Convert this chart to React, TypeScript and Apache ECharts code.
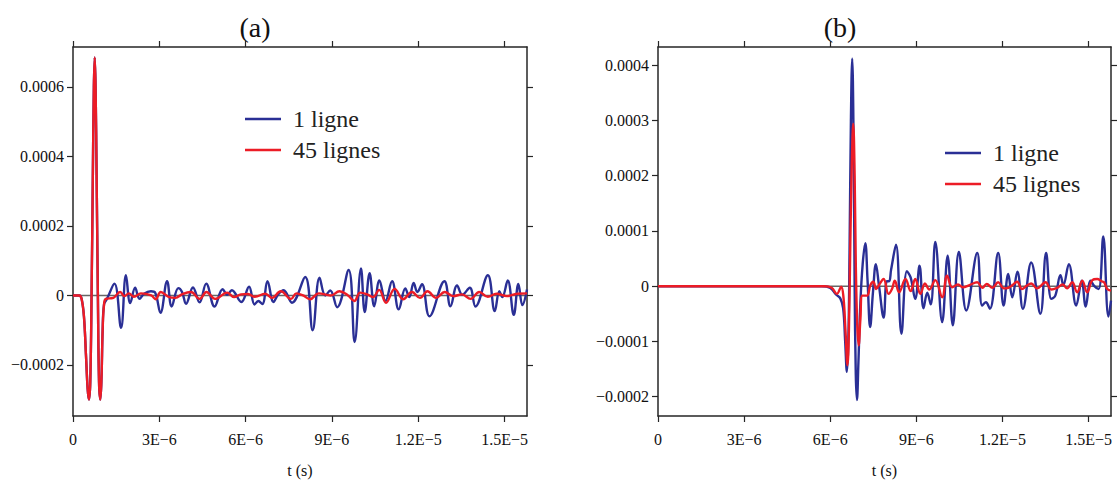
import { useEffect, useRef } from "react";
import * as echarts from "echarts";

// ---------- axes ----------
const X_MAX_US = 15.78; // time axis, in microseconds
const X_TICKS_US = [0, 3, 6, 9, 12, 15];
const X_TICK_LABELS = ["0", "3E−6", "6E−6", "9E−6", "1.2E−5", "1.5E−5"];
const Y_TICKS_A = [-0.0002, 0, 0.0002, 0.0004, 0.0006];
const Y_TICKS_B = [-0.0002, -0.0001, 0, 0.0001, 0.0002, 0.0003, 0.0004];
const Y_RANGE_A = [-0.000347, 0.000715];
const Y_RANGE_B = [-0.000235, 0.000433];

const TITLES = ["(a)", "(b)"];
const SERIES_NAMES = ["1 ligne", "45 lignes"];
const X_NAME = "t (s)";

// ---------- panel (a) : time in µs, values in units of 1e-5 ----------
const PULSE_A_T = [0, 0.22, 0.3, 0.38, 0.45, 0.51, 0.555, 0.6, 0.645, 0.69, 0.725, 0.755, 0.785, 0.82, 0.865, 0.905, 0.95, 0.99, 1.03, 1.08];
const PULSE_A_V = [0, 0, -1, -6, -17, -27, -30, -25, 0, 35, 60, 68.5, 60, 35, 0, -25, -30, -24, -10, -2.5];

const BLUE_A_T = [1.18, 1.44, 1.67, 1.84, 1.99, 2.16, 2.31, 2.47, 2.71, 2.85, 3.04, 3.27, 3.43, 3.66, 3.79, 3.93, 4.17, 4.4, 4.63, 4.92, 5.2, 5.36, 5.52, 5.85, 6.12, 6.31, 6.44, 6.58, 6.76, 6.97, 7.13, 7.32, 7.61, 8.07, 8.33, 8.57, 8.77, 8.94, 9.18, 9.58, 9.79, 10.01, 10.14, 10.31, 10.47, 10.65, 10.86, 11.09, 11.32, 11.55, 11.69, 11.84, 11.97, 12.13, 12.39, 12.91, 13.12, 13.35, 13.53, 13.79, 13.99, 14.42, 14.66, 14.82, 14.92, 15.11, 15.32, 15.48, 15.62, 15.78];
const BLUE_A_V = [-1.0, 3.4, -9.3, 5.8, -2.2, 2.2, -1.0, 0.5, 1.2, 0.9, -5.0, 4.1, -3.2, 2.1, 1.0, -2.4, 2.3, -2.0, 3.4, -3.2, 1.8, 0.2, 1.5, -1.9, 2.5, -2.6, -1.6, -2.5, 4.1, -1.9, 0.3, 1.5, -2.1, 5.3, -10.0, 5.1, 0, 1.4, -3.4, 7.3, -13.4, 7.8, -4.8, 6.4, -3.1, 4.3, -1.6, 4.1, -4.0, 2.0, -0.5, 3.6, 1.0, 3.2, -6.0, 4.1, -3.1, 2.9, 0.2, 2.2, -3.2, 5.8, -4.5, 1.2, -0.5, 4.3, -5.6, 3.3, -2.8, 1.7];

const RED_A_T = [1.14, 1.4, 1.64, 1.79, 1.94, 2.12, 2.36, 2.72, 2.87, 3.05, 3.32, 3.56, 3.8, 4.1, 4.4, 4.64, 4.94, 5.36, 5.6, 5.84, 6.08, 6.32, 6.68, 6.92, 7.22, 7.58, 7.76, 8.0, 8.24, 8.54, 8.96, 9.26, 9.56, 9.78, 9.98, 10.22, 10.43, 10.64, 10.88, 11.18, 11.48, 11.78, 12.06, 12.32, 12.62, 12.92, 13.22, 13.52, 13.82, 14.12, 14.42, 14.72, 15.08, 15.44, 15.78];
const RED_A_V = [-1.0, -0.7, 1.0, -0.2, 0.6, -0.4, 0.6, 0, -1.1, 1.0, -0.4, -0.7, 0.4, 1.0, -1.0, 1.0, -1.0, 0.8, -0.5, 0.3, 0.4, -0.4, 0.5, -0.7, 1.2, -1.0, 0.6, 0, -1.1, 0.6, 0, 1.2, 0, -1.6, 0.8, 0.3, -0.5, 1.6, -2.1, 1.9, -1.1, 1.0, -0.7, 1.2, -0.7, 1.0, -0.2, 0.3, -1.0, 1.0, -0.4, 0.5, -0.2, 0.5, 0.6];

// ---------- panel (b) ----------
const BLUE_B_T = [0, 5.7, 6.0, 6.2, 6.35, 6.45, 6.52, 6.58, 6.63, 6.67, 6.72, 6.765, 6.81, 6.85, 6.89, 6.93, 6.98, 7.05, 7.13, 7.22, 7.3, 7.39, 7.49, 7.59, 7.7, 7.86, 7.97, 8.05, 8.12, 8.29, 8.48, 8.67, 8.8, 8.96, 9.11, 9.25, 9.38, 9.5, 9.66, 9.9, 10.09, 10.27, 10.48, 10.74, 11.12, 11.29, 11.42, 11.56, 11.85, 12.04, 12.2, 12.34, 12.52, 12.71, 13.0, 13.32, 13.52, 13.7, 13.84, 14.02, 14.12, 14.31, 14.57, 14.76, 14.9, 15.07, 15.2, 15.35, 15.51, 15.69, 15.78];
const BLUE_B_V = [0, 0, -0.3, -1.5, -2.2, -4.0, -10.0, -15.5, -10.0, 5, 30, 41.2, 28, 0, -16, -20.6, -14, -3, 4, 7.8, 1, -7.4, -1, 4.0, 0, -5.7, 0.9, 0.9, 3.0, 7.5, -8.6, 2.7, 1.6, -2.3, 3.7, -4.0, -1.2, -3.3, 8.0, -6.5, 5.5, -7.1, 6.2, -4.4, 6.0, -3.5, -2.9, -4.1, 6.0, -3.5, 2.2, -2.0, 2.6, -4.1, 4.3, -5.0, 6.0, -2.3, -1.7, 2.0, 0.2, 4.0, -3.5, 1.0, -3.7, 1.0, 0, -0.5, 9.0, -5.5, -2.6];

const RED_B_T = [0, 5.8, 6.05, 6.23, 6.38, 6.46, 6.53, 6.6, 6.65, 6.7, 6.75, 6.8, 6.85, 6.89, 6.94, 6.99, 7.05, 7.12, 7.28, 7.4, 7.5, 7.6, 7.72, 7.86, 8.03, 8.15, 8.25, 8.4, 8.62, 8.8, 8.96, 9.14, 9.3, 9.45, 9.66, 9.9, 10.07, 10.25, 10.45, 10.62, 10.85, 11.12, 11.3, 11.45, 11.65, 11.85, 12.05, 12.2, 12.35, 12.51, 12.68, 12.85, 13.0, 13.2, 13.5, 13.7, 13.9, 14.1, 14.25, 14.43, 14.6, 14.78, 14.95, 15.13, 15.3, 15.45, 15.54, 15.65, 15.78];
const RED_B_V = [0, 0, -0.3, -1.4, -0.1, -2.0, -8.0, -14.3, -8, 8, 22, 29.4, 20, 4, -7, -10.7, -6, -1.7, -1.7, 0.2, 0.8, -0.5, 0.4, 1.3, -1.4, -0.5, 1.0, -1.1, 1.3, -0.9, 1.3, -1.4, 0.5, -0.6, 1.1, -2.0, 1.9, -0.2, 0.3, -0.2, 0.2, 0.7, -0.3, 0.4, -0.3, 0.7, -0.4, -0.3, 0.2, 0.8, -0.5, 0.1, 0.5, -0.4, 0.7, -0.6, -0.3, 0.3, -0.4, 0.7, -1.1, 1.0, -1.1, 1.1, 1.3, 0.9, 0.7, -0.5, -0.8];

// ---------- styling ----------
const BLUE = "#2a2f95";
const RED = "#ec1c26";
const AXIS_COLOR = "#262626";
const ZERO_COLOR = "#666666";
const FONT = "Liberation Serif";

const GRIDS = [
  { left: 73, top: 47, width: 454, height: 372 },
  { left: 658, top: 47, width: 453, height: 372 },
];

function toPairs(t: number[], v: number[]) {
  return t.map((ti, i) => [ti, v[i] * 1e-5]);
}

function fmtY(v: number) {
  if (Math.abs(v) < 1e-12) return "0";
  return (v < 0 ? "−" : "") + Math.abs(v).toFixed(4);
}
function fmtX(v: number) {
  let best = 0;
  for (let i = 1; i < X_TICKS_US.length; i++) {
    if (Math.abs(X_TICKS_US[i] - v) < Math.abs(X_TICKS_US[best] - v)) best = i;
  }
  return X_TICK_LABELS[best];
}

function xAxisDef(grid: number, position: "top" | "bottom") {
  const bottom = position === "bottom";
  return {
    type: "value",
    gridIndex: grid,
    position,
    min: 0,
    max: X_MAX_US,
    axisLine: { show: true, onZero: false, lineStyle: { color: AXIS_COLOR, width: 1.5 } },
    axisTick: { show: true, inside: false, length: 6, customValues: X_TICKS_US, lineStyle: { color: AXIS_COLOR, width: 1.2 } },
    axisLabel: {
      show: bottom,
      customValues: X_TICKS_US,
      formatter: fmtX,
      fontFamily: FONT,
      fontSize: 16,
      color: "#111",
      margin: 15,
    },
    splitLine: { show: false },
    name: bottom ? X_NAME : "",
    nameLocation: "middle",
    nameGap: 46,
    nameTextStyle: { fontFamily: FONT, fontSize: 16, color: "#111" },
  };
}

function yAxisDef(grid: number, position: "left" | "right", range: number[], ticks: number[]) {
  const left = position === "left";
  return {
    type: "value",
    gridIndex: grid,
    position,
    min: range[0],
    max: range[1],
    axisLine: { show: true, onZero: false, lineStyle: { color: AXIS_COLOR, width: 1.5 } },
    axisTick: { show: true, inside: false, length: 6, customValues: ticks, lineStyle: { color: AXIS_COLOR, width: 1.2 } },
    axisLabel: {
      show: left,
      customValues: ticks,
      formatter: fmtY,
      fontFamily: FONT,
      fontSize: 16,
      color: "#111",
      margin: 9,
    },
    splitLine: { show: false },
  };
}

function lineSeries(name: string, color: string, xi: number, yi: number, data: number[][], z: number) {
  return {
    type: "line",
    name,
    xAxisIndex: xi,
    yAxisIndex: yi,
    data,
    showSymbol: false,
    symbol: "none",
    smooth: 0.4,
    lineStyle: { color, width: 2.4 },
    itemStyle: { color },
    z,
  };
}

function zeroSeries(xi: number, yi: number) {
  return {
    type: "line",
    xAxisIndex: xi,
    yAxisIndex: yi,
    data: [
      [0, 0],
      [X_MAX_US, 0],
    ],
    showSymbol: false,
    symbol: "none",
    lineStyle: { color: ZERO_COLOR, width: 1.6 },
    z: 1,
    silent: true,
  };
}

function legendGraphic(x1: number, y1: number, gap: number) {
  const items: any[] = [];
  const cols = [BLUE, RED];
  for (let i = 0; i < 2; i++) {
    const y = y1 + i * gap;
    items.push({
      type: "line",
      shape: { x1, y1: y, x2: x1 + 36, y2: y },
      style: { stroke: cols[i], lineWidth: 2.4 },
    });
    items.push({
      type: "text",
      x: x1 + 48,
      y,
      style: {
        text: SERIES_NAMES[i],
        fontFamily: FONT,
        fontSize: 24,
        fill: "#222",
        align: "left",
        verticalAlign: "middle",
      },
    });
  }
  return items;
}

function titleGraphic(text: string, x: number, y: number) {
  return {
    type: "text",
    x,
    y,
    style: {
      text,
      fontFamily: FONT,
      fontSize: 28,
      fill: "#111",
      align: "center",
      verticalAlign: "middle",
    },
  };
}

export default function App() {
  const ref = useRef<HTMLDivElement>(null);

  useEffect(() => {
    document.body.style.margin = "0";
    if (!ref.current) return;
    const chart = echarts.init(ref.current, undefined, { renderer: "svg" });

    const blueA = toPairs(PULSE_A_T.concat(BLUE_A_T), PULSE_A_V.concat(BLUE_A_V));
    const redA = toPairs(PULSE_A_T.concat(RED_A_T), PULSE_A_V.concat(RED_A_V));
    const blueB = toPairs(BLUE_B_T, BLUE_B_V);
    const redB = toPairs(RED_B_T, RED_B_V);

    chart.setOption({
      animation: false,
      backgroundColor: "#ffffff",
      textStyle: { fontFamily: FONT },
      grid: GRIDS.map((g) => ({ ...g, containLabel: false })),
      xAxis: [xAxisDef(0, "bottom"), xAxisDef(0, "top"), xAxisDef(1, "bottom"), xAxisDef(1, "top")],
      yAxis: [
        yAxisDef(0, "left", Y_RANGE_A, Y_TICKS_A),
        yAxisDef(0, "right", Y_RANGE_A, Y_TICKS_A),
        yAxisDef(1, "left", Y_RANGE_B, Y_TICKS_B),
        yAxisDef(1, "right", Y_RANGE_B, Y_TICKS_B),
      ],
      series: [
        zeroSeries(0, 0),
        lineSeries(SERIES_NAMES[0], BLUE, 0, 0, blueA, 2),
        lineSeries(SERIES_NAMES[1], RED, 0, 0, redA, 3),
        zeroSeries(2, 2),
        lineSeries(SERIES_NAMES[0], BLUE, 2, 2, blueB, 2),
        lineSeries(SERIES_NAMES[1], RED, 2, 2, redB, 3),
      ],
      graphic: [
        titleGraphic(TITLES[0], 255, 27),
        titleGraphic(TITLES[1], 840, 27),
        ...legendGraphic(245, 119, 31),
        ...legendGraphic(945, 153, 31),
      ],
    });

    return () => chart.dispose();
  }, []);

  return (
    <div
      ref={ref}
      style={{ position: "absolute", left: 0, top: 0, width: 1120, height: 483 }}
    />
  );
}
